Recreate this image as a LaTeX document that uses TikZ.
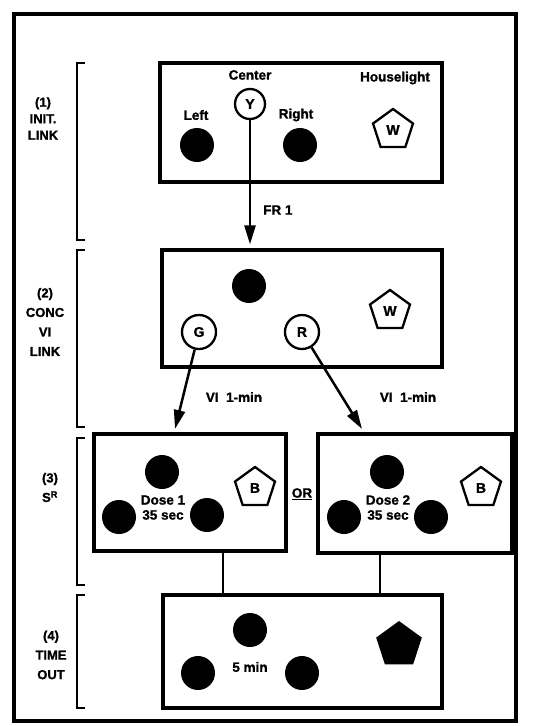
\documentclass[tikz,border=0pt]{standalone}
\usepackage{fontspec}
\setmainfont{Liberation Sans}
\newfontfamily\hv[FakeBold=1.2]{Liberation Sans Bold}
\usetikzlibrary{shapes.geometric,arrows.meta}
\begin{document}
\begin{tikzpicture}[x=1pt,y=-1pt,
  box/.style={draw, line width=3.2pt, rectangle, inner sep=0pt},
  dot/.style={circle, fill=black, minimum size=34pt, inner sep=0pt},
  lamp/.style={circle, draw, line width=2.3pt, minimum size=34pt, inner sep=0pt, font=\hv\fontsize{14}{14}\selectfont},
  pent/.style={regular polygon, regular polygon sides=5, draw, line width=2.3pt, minimum size=42pt, inner sep=0pt, font=\hv\fontsize{14}{14}\selectfont},
  lbl/.style={font=\hv\fontsize{13.5}{17}\selectfont, align=center, inner sep=0pt},
  side/.style={font=\hv\fontsize{13}{19.5}\selectfont, align=center, inner sep=0pt},
  brk/.style={line width=2.6pt},
  link/.style={line width=2.6pt},
  arr/.style={line width=2.5pt, -{Triangle[length=19pt,width=11pt]}}]
\useasboundingbox (0,0) rectangle (533,726);
\fill[white] (0,0) rectangle (533,726);
% outer frame
\draw[line width=3.4pt] (14,14) rectangle (516,721);
% brackets
\draw[brk] (85,63) -- (77,63) -- (77,240) -- (85,240);
\draw[brk] (85,250) -- (77,250) -- (77,427) -- (85,427);
\draw[brk] (85,438) -- (77,438) -- (77,585) -- (85,585);
\draw[brk] (85,595) -- (77,595) -- (77,708) -- (85,708);
% side labels
\node[side, font=\hv\fontsize{13}{16.5}\selectfont] (s1) at (43,118.5) {(1)\\INIT.\\LINK};
\node[side] (s2) at (45,322) {(2)\\CONC\\VI\\LINK};
\node[side] (s3) at (50,487.5) {(3)\\S\textsuperscript{R}};
\node[side] (s4) at (51,655) {(4)\\TIME\\OUT};
% boxes
\node[box, minimum width=282pt, minimum height=119pt] (b1) at (301,122.5) {};
\node[box, minimum width=280pt, minimum height=117pt] (b2) at (302,308.5) {};
\node[box, minimum width=192pt, minimum height=117pt] (b3a) at (190,492.5) {};
\node[box, minimum width=194pt, minimum height=119pt] (b3b) at (415,493.5) {};
\node[box, minimum width=279pt, minimum height=113pt] (b4) at (302.5,651.5) {};
% box 1
\node[lbl] (tc) at (250,75) {Center};
\node[lamp, minimum size=30pt] (Y) at (250,104) {Y};
\node[dot] (L) at (197,145) {};
\node[lbl] (tl) at (196,115) {Left};
\node[dot] (Rt) at (300,145) {};
\node[lbl] (tr) at (296,115) {Right};
\node[lbl] (th) at (395,78) {Houselight};
\node[pent] (W1) at (393,130) {W};
\draw[arr, shorten >=4pt] (Y.south) -- (Y.south |- b2.north);
\node[lbl, anchor=west] (fr) at (263,210) {FR 1};
% box 2
\node[dot] (c2) at (249,286) {};
\node[lamp] (G) at (199,332) {G};
\node[lamp] (R) at (302,332) {R};
\node[pent] (W2) at (390,311) {W};
\coordinate (gt) at (175,429);
\coordinate (rt) at (362,429);
\draw[arr] (G) -- (gt);
\draw[arr] (R) -- (rt);
\node[lbl] (v1) at (234,397) {VI\ \ 1-min};
\node[lbl] (v2) at (408,397) {VI\ \ 1-min};
% box 3a
\node[dot] (a1) at (162,472) {};
\node[dot] (a2) at (119,517) {};
\node[dot] (a3) at (207,515) {};
\node[lbl] (d1) at (163,507.5) {Dose 1\\[-2pt]35 sec};
\node[pent] (B1) at (255,488) {B};
\node[lbl] (or) at (302,494) {\underline{OR}};
% box 3b
\node[dot] (e1) at (387,472) {};
\node[dot] (e2) at (344,517) {};
\node[dot] (e3) at (431,517) {};
\node[lbl] (d2) at (388,507.5) {Dose 2\\[-2pt]35 sec};
\node[pent] (B2) at (481,488) {B};
% links to time out
\draw[link] ([xshift=33pt]b3a.south) -- ([xshift=33pt]b3a.south |- b4.north);
\draw[link] ([xshift=-35pt]b3b.south) -- ([xshift=-35pt]b3b.south |- b4.north);
% box 4
\node[dot] (f1) at (250,630) {};
\node[dot] (f2) at (198,673) {};
\node[dot] (f3) at (302,673) {};
\node[lbl] (tm) at (250,667) {5 min};
\node[regular polygon, regular polygon sides=5, fill=black, minimum size=48pt, inner sep=0pt] (P4) at (399,645) {};
\end{tikzpicture}
\end{document}
